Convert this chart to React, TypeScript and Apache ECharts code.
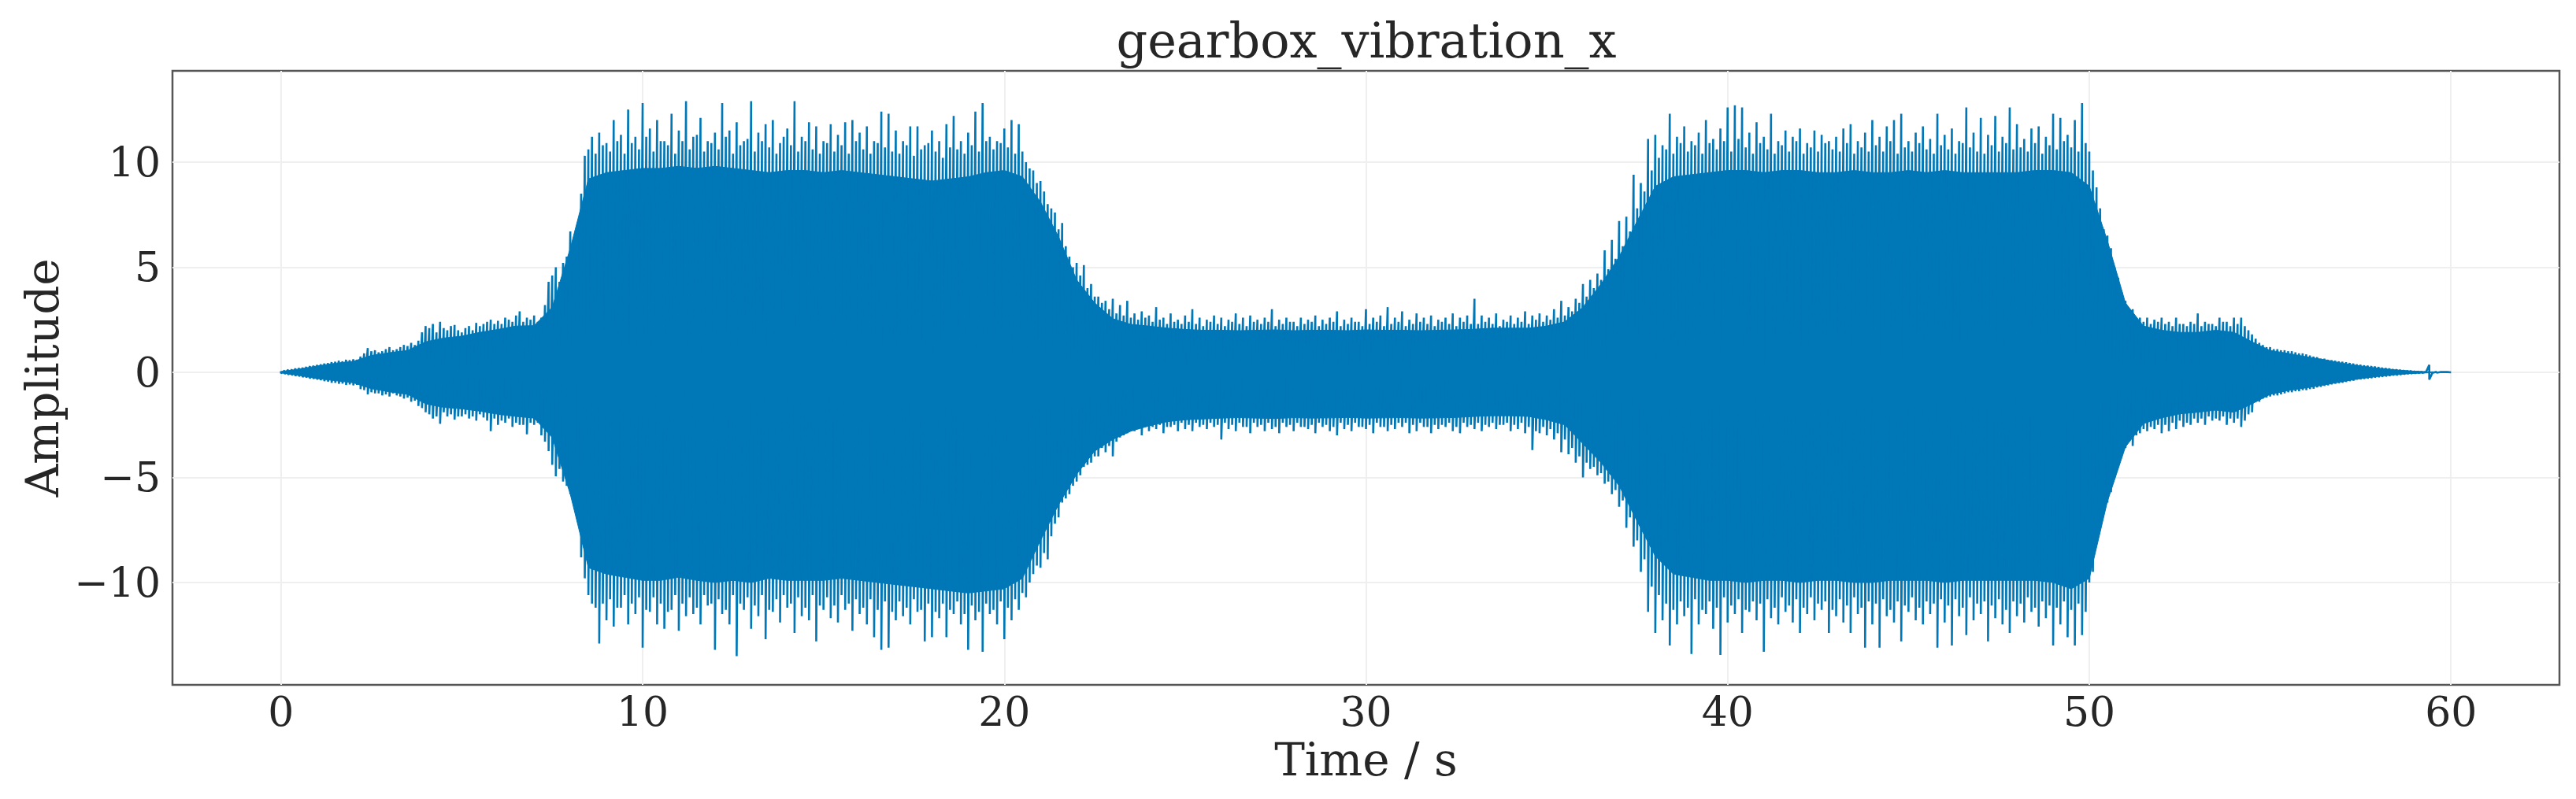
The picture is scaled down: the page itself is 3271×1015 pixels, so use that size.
import React, { useEffect, useRef } from "react";
import * as echarts from "echarts";

const TITLE = "gearbox_vibration_x";
const X_LABEL = "Time / s";
const Y_LABEL = "Amplitude";
const X_TICKS = [0, 10, 20, 30, 40, 50, 60];
const Y_TICKS = [-10, -5, 0, 5, 10];
const X_MIN = -3;
const X_MAX = 63;
const Y_MIN = -14.87;
const Y_MAX = 14.34;

// solid core of the signal band, sampled every 0.5 s from t = 0 to 60
const BODY_STEP = 0.5;
const bodyUpper = [
  0.03, 0.15, 0.3, 0.43, 0.52, 0.8, 0.93, 1.04, 1.45, 1.63,
  1.72, 1.9, 2.04, 2.2, 2.22, 3.1, 5.9, 9.2, 9.5, 9.6,
  9.7, 9.7, 9.8, 9.7, 9.8, 9.7, 9.6, 9.5, 9.6, 9.6,
  9.5, 9.6, 9.5, 9.4, 9.3, 9.2, 9.1, 9.2, 9.3, 9.5,
  9.6, 9.3, 8.1, 6.45, 4.4, 3.3, 2.55, 2.28, 2.2, 2.1,
  2.04, 2.0, 2.0, 1.98, 2.0, 2.02, 1.98, 2.0, 2.0, 1.98,
  2.02, 2.0, 2.0, 1.98, 2.0, 2.02, 2.05, 2.1, 2.1, 2.1,
  2.2, 2.4, 3.1, 4.2, 5.5, 7.2, 8.85, 9.3, 9.4, 9.5,
  9.6, 9.6, 9.5, 9.6, 9.6, 9.5, 9.5, 9.6, 9.5, 9.5,
  9.6, 9.5, 9.6, 9.5, 9.5, 9.5, 9.5, 9.6, 9.6, 9.5,
  8.85, 6.26, 3.3, 2.2, 2.0, 1.9, 1.9, 2.0, 1.9, 1.45,
  1.04, 0.9, 0.74, 0.6, 0.43, 0.3, 0.19, 0.11, 0.05, 0.02,
  0,
];
const bodyLower = [
  -0.03, -0.15, -0.3, -0.4, -0.5, -0.78, -0.93, -1.05, -1.5, -1.67,
  -1.74, -1.85, -2.0, -2.1, -2.18, -3.1, -5.8, -9.3, -9.6, -9.75,
  -9.9, -9.9, -9.75, -9.9, -10.0, -9.9, -10.0, -9.8, -9.9, -9.9,
  -9.9, -9.8, -9.9, -10.0, -10.1, -10.2, -10.3, -10.4, -10.5, -10.4,
  -10.3, -9.8, -8.0, -6.3, -4.85, -3.75, -3.2, -2.8, -2.55, -2.35,
  -2.26, -2.22, -2.18, -2.16, -2.18, -2.2, -2.16, -2.18, -2.17, -2.15,
  -2.18, -2.17, -2.16, -2.18, -2.17, -2.15, -2.1, -2.07, -2.07, -2.1,
  -2.26, -2.5, -3.4, -4.3, -5.4, -7.1, -8.75, -9.6, -9.75, -9.9,
  -9.9, -10.0, -9.9, -9.9, -10.0, -9.9, -9.9, -10.0, -10.0, -9.9,
  -9.9, -9.9, -10.0, -9.9, -9.9, -9.9, -9.9, -9.9, -10.0, -10.3,
  -9.8, -6.15, -3.55, -2.44, -2.17, -1.98, -1.9, -1.8, -1.9, -1.5,
  -1.05, -0.87, -0.74, -0.6, -0.44, -0.3, -0.19, -0.11, -0.05, -0.02,
  0,
];

// tallest spikes, sampled every 0.2 s from t = 0 to 60 (one row per second)
const PEAK_STEP = 0.2;
const peakUpper = [
  0.05, 0.12, 0.18, 0.22, 0.3,
  0.35, 0.42, 0.48, 0.55, 0.6,
  0.62, 0.75, 1.15, 1.05, 1.0,
  1.2, 1.1, 1.3, 1.4, 1.5,
  2.2, 2.3, 2.4, 2.0, 2.25,
  1.9, 2.2, 2.35, 2.3, 2.5,
  2.45, 2.6, 2.4, 2.9, 2.6,
  2.7, 2.6, 4.3, 5.0, 5.2,
  6.7, 6.9, 10.3, 11.2, 11.4,
  10.9, 12.0, 11.3, 12.5, 11.2,
  12.8, 11.6, 12.0, 11.0, 12.3,
  11.5, 12.9, 11.2, 12.1, 11.0,
  11.4, 12.8, 11.5, 11.9, 11.0,
  12.9, 11.4, 11.8, 12.0, 10.9,
  11.6, 12.9, 11.2, 11.9, 11.7,
  11.0, 11.8, 11.3, 11.9, 12.0,
  11.4, 11.7, 11.0, 12.4, 12.3,
  11.5, 11.0, 11.7, 11.7, 10.8,
  11.5, 11.0, 11.8, 12.2, 11.0,
  11.4, 12.4, 12.8, 11.2, 11.0,
  11.6, 12.0, 11.8, 10.0, 9.6,
  9.1, 8.0, 7.6, 7.1, 5.5,
  5.2, 5.1, 4.2, 3.6, 3.4,
  3.5, 3.2, 3.4, 2.8, 2.9,
  2.7, 3.1, 2.6, 2.8, 2.5,
  2.7, 3.0, 2.6, 2.5, 2.7,
  2.6, 2.5, 2.8, 2.6, 2.7,
  2.5, 2.6, 3.0, 2.5, 2.6,
  2.4, 2.6, 2.5, 2.7, 2.5,
  2.6, 2.9, 2.5, 2.6, 2.4,
  3.0, 2.6, 2.7, 3.1, 2.6,
  2.9, 2.5, 2.8, 2.6, 2.7,
  2.5, 2.6, 2.8, 2.6, 2.7,
  3.5, 2.7, 2.6, 2.8, 2.5,
  2.7, 2.6, 2.9, 2.7, 2.8,
  2.7, 3.0, 3.4, 3.1, 3.5,
  4.2, 4.4, 4.7, 5.8, 6.3,
  7.2, 7.4, 9.4, 9.0, 11.1,
  11.3, 10.8, 12.3, 11.2, 11.7,
  11.0, 11.4, 12.0, 11.1, 11.6,
  12.6, 12.7, 12.6, 11.4, 11.9,
  11.2, 12.3, 11.0, 11.5, 11.2,
  11.6, 10.9, 11.5, 11.3, 11.0,
  11.2, 11.6, 11.8, 11.0, 11.4,
  12.0, 11.2, 11.7, 12.0, 12.3,
  11.0, 11.4, 11.7, 11.1, 12.3,
  11.3, 11.6, 11.0, 12.6, 11.4,
  12.1, 11.3, 12.2, 11.2, 12.6,
  11.8, 11.1, 11.6, 11.7, 11.2,
  12.3, 12.1, 11.3, 12.0, 12.8,
  10.5, 8.8, 6.8, 5.9, 4.5,
  3.4, 3.0, 2.6, 2.6, 2.5,
  2.6, 2.4, 2.6, 2.3, 2.4,
  2.8, 2.4, 2.3, 2.6, 2.4,
  2.6, 2.6, 2.0, 1.6, 1.3,
  1.2, 1.1, 1.05, 1.0, 0.9,
  0.85, 0.75, 0.65, 0.6, 0.55,
  0.5, 0.45, 0.38, 0.33, 0.3,
  0.25, 0.2, 0.15, 0.12, 0.08,
  0.05, 0.03, 0.35, 0.02, 0.01,
  0,
];
const peakLower = [
  -0.05, -0.12, -0.18, -0.24, -0.3,
  -0.35, -0.42, -0.5, -0.55, -0.6,
  -0.62, -0.8, -1.05, -1.0, -1.1,
  -1.15, -1.1, -1.25, -1.4, -1.6,
  -1.9, -2.2, -2.45, -2.1, -2.25,
  -2.1, -2.2, -2.3, -2.15, -2.8,
  -2.5, -2.4, -2.6, -2.5, -2.95,
  -2.5, -3.0, -3.75, -4.95, -5.2,
  -5.8, -6.5, -9.8, -11.0, -12.9,
  -11.8, -12.1, -11.2, -12.0, -11.5,
  -13.1, -11.4, -12.0, -12.2, -11.3,
  -12.3, -11.6, -11.5, -12.0, -11.1,
  -13.2, -11.5, -12.0, -13.5, -11.3,
  -12.2, -11.6, -12.7, -11.4, -11.9,
  -11.2, -12.4, -11.6, -11.8, -12.8,
  -11.3, -11.7, -11.9, -11.3, -12.3,
  -11.5, -12.0, -12.6, -13.2, -13.1,
  -11.8, -11.6, -12.0, -11.4, -12.8,
  -12.6, -11.7, -12.6, -11.5, -12.0,
  -13.2, -11.8, -13.3, -11.5, -12.0,
  -12.7, -11.8, -11.3, -10.7, -9.6,
  -9.3, -8.9, -7.2, -6.2, -5.8,
  -5.2, -4.5, -4.3, -4.0, -3.8,
  -4.0, -3.1, -2.9, -2.8, -3.0,
  -2.8, -2.7, -2.9, -2.6, -2.8,
  -2.7, -2.8, -2.6, -2.7, -2.6,
  -3.2, -2.7, -2.8, -2.6, -2.9,
  -2.6, -2.8, -2.7, -2.9, -2.6,
  -2.8, -2.6, -2.7, -2.9, -2.6,
  -2.8, -3.0, -2.7, -2.8, -2.6,
  -2.7, -2.9, -2.6, -2.8, -2.7,
  -2.6, -2.9, -2.8, -2.6, -2.9,
  -2.7, -2.6, -2.8, -2.9, -2.6,
  -2.7, -2.8, -2.6, -2.7, -2.5,
  -2.8, -2.7, -2.9, -3.7, -2.9,
  -3.0, -3.2, -3.8, -3.9, -4.3,
  -5.0, -4.6, -4.9, -5.3, -5.8,
  -6.4, -7.4, -8.3, -9.5, -11.4,
  -12.4, -11.8, -13.0, -12.0, -11.6,
  -13.4, -12.0, -11.5, -12.2, -13.45,
  -11.9, -11.5, -12.4, -11.4, -11.8,
  -13.3, -11.7, -12.0, -11.4, -11.9,
  -12.4, -11.5, -11.8, -11.3, -12.4,
  -11.6, -11.9, -12.4, -11.5, -13.1,
  -12.0, -13.1, -11.6, -11.9, -12.8,
  -11.4, -11.8, -12.0, -11.5, -13.1,
  -11.9, -13.0, -11.6, -12.5, -11.8,
  -11.5, -12.8, -11.7, -12.0, -12.4,
  -11.6, -11.9, -11.4, -12.1, -11.7,
  -13.0, -12.0, -12.6, -13.0, -12.5,
  -10.0, -6.9, -6.3, -5.7, -3.9,
  -3.6, -3.5, -2.9, -2.8, -2.7,
  -2.9, -2.8, -2.7, -2.6, -2.5,
  -2.4, -2.5, -2.3, -2.3, -2.5,
  -2.4, -2.6, -2.0, -1.4, -1.25,
  -1.15, -1.1, -1.0, -0.95, -0.9,
  -0.85, -0.78, -0.7, -0.62, -0.55,
  -0.5, -0.42, -0.35, -0.32, -0.28,
  -0.24, -0.2, -0.15, -0.12, -0.08,
  -0.05, -0.03, -0.35, -0.02, -0.01,
  0,
];

// shorter in-between spikes, at t = 0.1, 0.3, ... 59.9 (one row per second)
const MID_OFFSET = 0.1;
const midUpper = [
  0.08, 0.14, 0.2, 0.26, 0.32,
  0.38, 0.44, 0.5, 0.52, 0.58,
  0.6, 0.9, 1.0, 0.95, 1.1,
  1.05, 1.2, 1.25, 1.3, 1.9,
  2.1, 1.9, 2.1, 2.2, 2.0,
  2.1, 2.0, 2.2, 2.4, 2.3,
  2.3, 2.5, 2.7, 2.4, 2.5,
  2.4, 3.2, 4.6, 4.3, 5.5,
  6.0, 8.5, 10.6, 10.4, 10.8,
  10.5, 11.0, 10.4, 10.9, 10.6,
  11.2, 10.5, 11.0, 10.8, 10.4,
  11.0, 10.6, 11.3, 10.5, 10.9,
  10.6, 11.2, 10.4, 10.8, 11.1,
  10.5, 11.0, 10.7, 10.4, 11.2,
  10.8, 10.5, 11.0, 10.6, 10.4,
  10.9, 10.5, 10.8, 10.4, 11.0,
  10.6, 10.4, 10.9, 10.7, 10.5,
  10.4, 10.8, 10.3, 10.6, 10.9,
  10.5, 10.2, 10.7, 10.6, 10.4,
  10.8, 10.5, 11.0, 10.6, 10.9,
  10.7, 10.4, 10.5, 9.7, 9.0,
  8.6, 7.8, 6.8, 6.0, 5.0,
  4.6, 4.0, 3.6, 3.3, 3.0,
  2.8, 2.7, 2.6, 2.5, 2.6,
  2.4, 2.5, 2.3, 2.4, 2.3,
  2.4, 2.3, 2.2, 2.4, 2.3,
  2.2, 2.4, 2.3, 2.2, 2.4,
  2.3, 2.4, 2.2, 2.3, 2.4,
  2.2, 2.3, 2.4, 2.2, 2.3,
  2.4, 2.2, 2.3, 2.4, 2.2,
  2.3, 2.4, 2.2, 2.3, 2.4,
  2.2, 2.3, 2.4, 2.3, 2.2,
  2.4, 2.3, 2.2, 2.4, 2.3,
  2.3, 2.4, 2.3, 2.2, 2.4,
  2.3, 2.4, 2.3, 2.5, 2.4,
  2.5, 2.6, 2.7, 2.9, 3.3,
  3.6, 4.0, 4.4, 4.9, 5.4,
  6.0, 6.7, 7.8, 8.6, 9.6,
  10.2, 10.6, 10.4, 10.9, 10.5,
  10.8, 10.4, 10.9, 10.6, 11.0,
  10.5, 11.1, 10.7, 10.4, 10.9,
  10.6, 10.4, 10.8, 10.5, 11.0,
  10.4, 10.7, 10.5, 10.9, 10.6,
  10.5, 10.9, 10.4, 10.7, 10.5,
  10.8, 10.5, 11.0, 10.4, 10.7,
  10.5, 10.9, 10.6, 10.4, 10.8,
  10.6, 10.4, 10.9, 10.7, 10.5,
  10.4, 10.8, 10.5, 10.9, 10.6,
  10.7, 10.5, 10.9, 10.4, 10.8,
  10.6, 11.0, 10.7, 10.5, 10.9,
  9.6, 7.8, 6.5, 5.0, 3.8,
  3.0, 2.6, 2.4, 2.3, 2.4,
  2.3, 2.2, 2.3, 2.2, 2.3,
  2.2, 2.3, 2.2, 2.4, 2.2,
  2.3, 2.2, 1.8, 1.4, 1.2,
  1.1, 1.05, 1.0, 0.95, 0.9,
  0.8, 0.72, 0.65, 0.58, 0.52,
  0.48, 0.42, 0.36, 0.32, 0.28,
  0.22, 0.18, 0.14, 0.1, 0.07,
  0.04, 0.02, 0.02, 0.01, 0.01,
];
const midLower = [
  -0.08, -0.14, -0.2, -0.26, -0.32,
  -0.38, -0.44, -0.5, -0.54, -0.58,
  -0.6, -0.85, -0.95, -1.0, -1.05,
  -1.0, -1.15, -1.2, -1.35, -1.7,
  -2.0, -2.1, -1.9, -2.0, -2.1,
  -2.0, -2.1, -2.0, -2.3, -2.2,
  -2.3, -2.2, -2.4, -2.5, -2.4,
  -2.4, -3.3, -4.4, -4.6, -5.4,
  -6.1, -8.8, -10.6, -11.2, -11.0,
  -10.8, -11.2, -10.6, -11.0, -10.7,
  -11.3, -10.7, -11.0, -11.4, -10.6,
  -11.0, -10.7, -11.2, -10.6, -11.0,
  -10.8, -11.3, -10.6, -11.0, -10.7,
  -11.1, -10.6, -11.3, -10.8, -10.6,
  -11.0, -10.7, -11.2, -10.6, -11.1,
  -10.7, -11.1, -10.6, -11.0, -10.8,
  -11.2, -10.8, -11.3, -10.9, -11.4,
  -10.9, -11.2, -10.8, -11.3, -11.0,
  -11.4, -11.0, -11.3, -10.9, -11.5,
  -11.1, -11.4, -11.0, -11.3, -10.9,
  -11.2, -10.8, -10.5, -10.0, -9.2,
  -8.6, -7.8, -6.9, -6.0, -5.4,
  -4.9, -4.4, -4.0, -3.6, -3.5,
  -3.3, -3.0, -2.8, -2.7, -2.6,
  -2.6, -2.5, -2.6, -2.5, -2.4,
  -2.5, -2.4, -2.5, -2.4, -2.5,
  -2.4, -2.5, -2.4, -2.6, -2.4,
  -2.5, -2.4, -2.6, -2.4, -2.5,
  -2.4, -2.6, -2.5, -2.4, -2.5,
  -2.6, -2.4, -2.5, -2.4, -2.6,
  -2.5, -2.4, -2.6, -2.5, -2.4,
  -2.4, -2.5, -2.4, -2.6, -2.5,
  -2.5, -2.4, -2.6, -2.4, -2.5,
  -2.4, -2.5, -2.4, -2.5, -2.4,
  -2.5, -2.4, -2.6, -2.8, -2.6,
  -2.7, -2.9, -3.2, -3.6, -4.0,
  -4.3, -4.5, -4.8, -5.2, -5.6,
  -6.1, -6.9, -8.0, -8.9, -10.2,
  -10.6, -11.0, -11.3, -10.9, -11.2,
  -10.8, -11.3, -10.9, -11.2, -10.7,
  -11.1, -10.8, -11.3, -10.9, -11.0,
  -10.8, -11.2, -10.7, -11.1, -10.8,
  -11.2, -10.7, -11.0, -10.9, -11.3,
  -10.8, -11.1, -10.7, -11.2, -10.9,
  -11.0, -10.8, -11.3, -10.9, -11.1,
  -10.7, -11.2, -10.9, -11.0, -10.8,
  -11.1, -10.8, -11.2, -10.7, -11.0,
  -10.9, -11.1, -10.8, -11.3, -10.9,
  -11.0, -10.7, -11.2, -10.9, -11.1,
  -11.2, -10.9, -11.3, -11.0, -11.4,
  -9.5, -7.4, -6.2, -5.0, -3.8,
  -3.2, -3.0, -2.7, -2.6, -2.5,
  -2.5, -2.4, -2.3, -2.4, -2.2,
  -2.2, -2.1, -2.2, -2.1, -2.2,
  -2.2, -2.3, -1.9, -1.4, -1.2,
  -1.1, -1.05, -0.95, -0.9, -0.85,
  -0.8, -0.72, -0.65, -0.58, -0.52,
  -0.46, -0.4, -0.34, -0.3, -0.26,
  -0.22, -0.18, -0.14, -0.1, -0.07,
  -0.04, -0.02, -0.02, -0.01, -0.01,
];

const BLUE = "#0077b7";
const FONT = "DejaVu Serif";
const TEXT = "#262626";

const fmtMinus = (v: number) => (v < 0 ? "\u2212" + Math.abs(v) : String(v));

export default function App() {
  const ref = useRef<HTMLDivElement>(null);

  useEffect(() => {
    document.body.style.margin = "0";
    if (!ref.current) return;
    const chart = echarts.init(ref.current, undefined, { renderer: "svg" });

    const tAt = (i: number, step: number, off = 0) =>
      Math.round((i * step + off) * 100) / 100;
    const upperData = bodyUpper.map((v, i) => [tAt(i, BODY_STEP), v]);
    const lowerData = bodyLower.map((v, i) => [tAt(i, BODY_STEP), v]);
    const spikeData: number[][] = [];
    peakUpper.forEach((u, i) => {
      const t = tAt(i, PEAK_STEP);
      spikeData.push([t, u]);
      spikeData.push([t, peakLower[i]]);
      if (i < midUpper.length) {
        const tm = tAt(i, PEAK_STEP, MID_OFFSET);
        spikeData.push([tm, midUpper[i]]);
        spikeData.push([tm, midLower[i]]);
      }
    });

    const bandSeries = (data: number[][]) => ({
      type: "line",
      data,
      symbol: "none",
      silent: true,
      lineStyle: { color: BLUE, width: 1 },
      areaStyle: { color: BLUE, opacity: 1, origin: 0 },
      z: 2,
    });

    chart.setOption({
      animation: false,
      title: {
        text: TITLE,
        left: 1735,
        top: 20,
        textAlign: "center",
        padding: 0,
        textStyle: { fontFamily: FONT, fontSize: 62, fontWeight: "normal", color: TEXT },
      },
      grid: {
        left: 219,
        right: 21,
        top: 90,
        bottom: 145,
        show: true,
        borderColor: "#555555",
        borderWidth: 2.5,
        backgroundColor: "transparent",
      },
      xAxis: {
        type: "value",
        min: X_MIN,
        max: X_MAX,
        name: X_LABEL,
        nameLocation: "middle",
        nameGap: 66,
        nameTextStyle: { fontFamily: FONT, fontSize: 58, color: TEXT },
        axisLine: { show: false },
        axisTick: { show: false, customValues: X_TICKS },
        axisLabel: {
          customValues: X_TICKS,
          margin: 8,
          fontFamily: FONT,
          fontSize: 52,
          color: TEXT,
          formatter: (v: number) => fmtMinus(v),
        },
        splitLine: { show: true, lineStyle: { color: "#efefef", width: 2 } },
      },
      yAxis: {
        type: "value",
        min: Y_MIN,
        max: Y_MAX,
        name: Y_LABEL,
        nameLocation: "middle",
        nameGap: 128,
        nameTextStyle: { fontFamily: FONT, fontSize: 58, color: TEXT },
        axisLine: { show: false },
        axisTick: { show: false, customValues: Y_TICKS },
        axisLabel: {
          customValues: Y_TICKS,
          margin: 15,
          fontFamily: FONT,
          fontSize: 52,
          color: TEXT,
          formatter: (v: number) => fmtMinus(v),
        },
        splitLine: { show: true, lineStyle: { color: "#efefef", width: 2 } },
      },
      series: [
        bandSeries(upperData),
        bandSeries(lowerData),
        {
          type: "line",
          data: spikeData,
          symbol: "none",
          silent: true,
          lineStyle: { color: BLUE, width: 2.6, join: "bevel" },
          z: 3,
        },
      ],
    });

    return () => chart.dispose();
  }, []);

  return <div ref={ref} style={{ width: 3271, height: 1015 }} />;
}
